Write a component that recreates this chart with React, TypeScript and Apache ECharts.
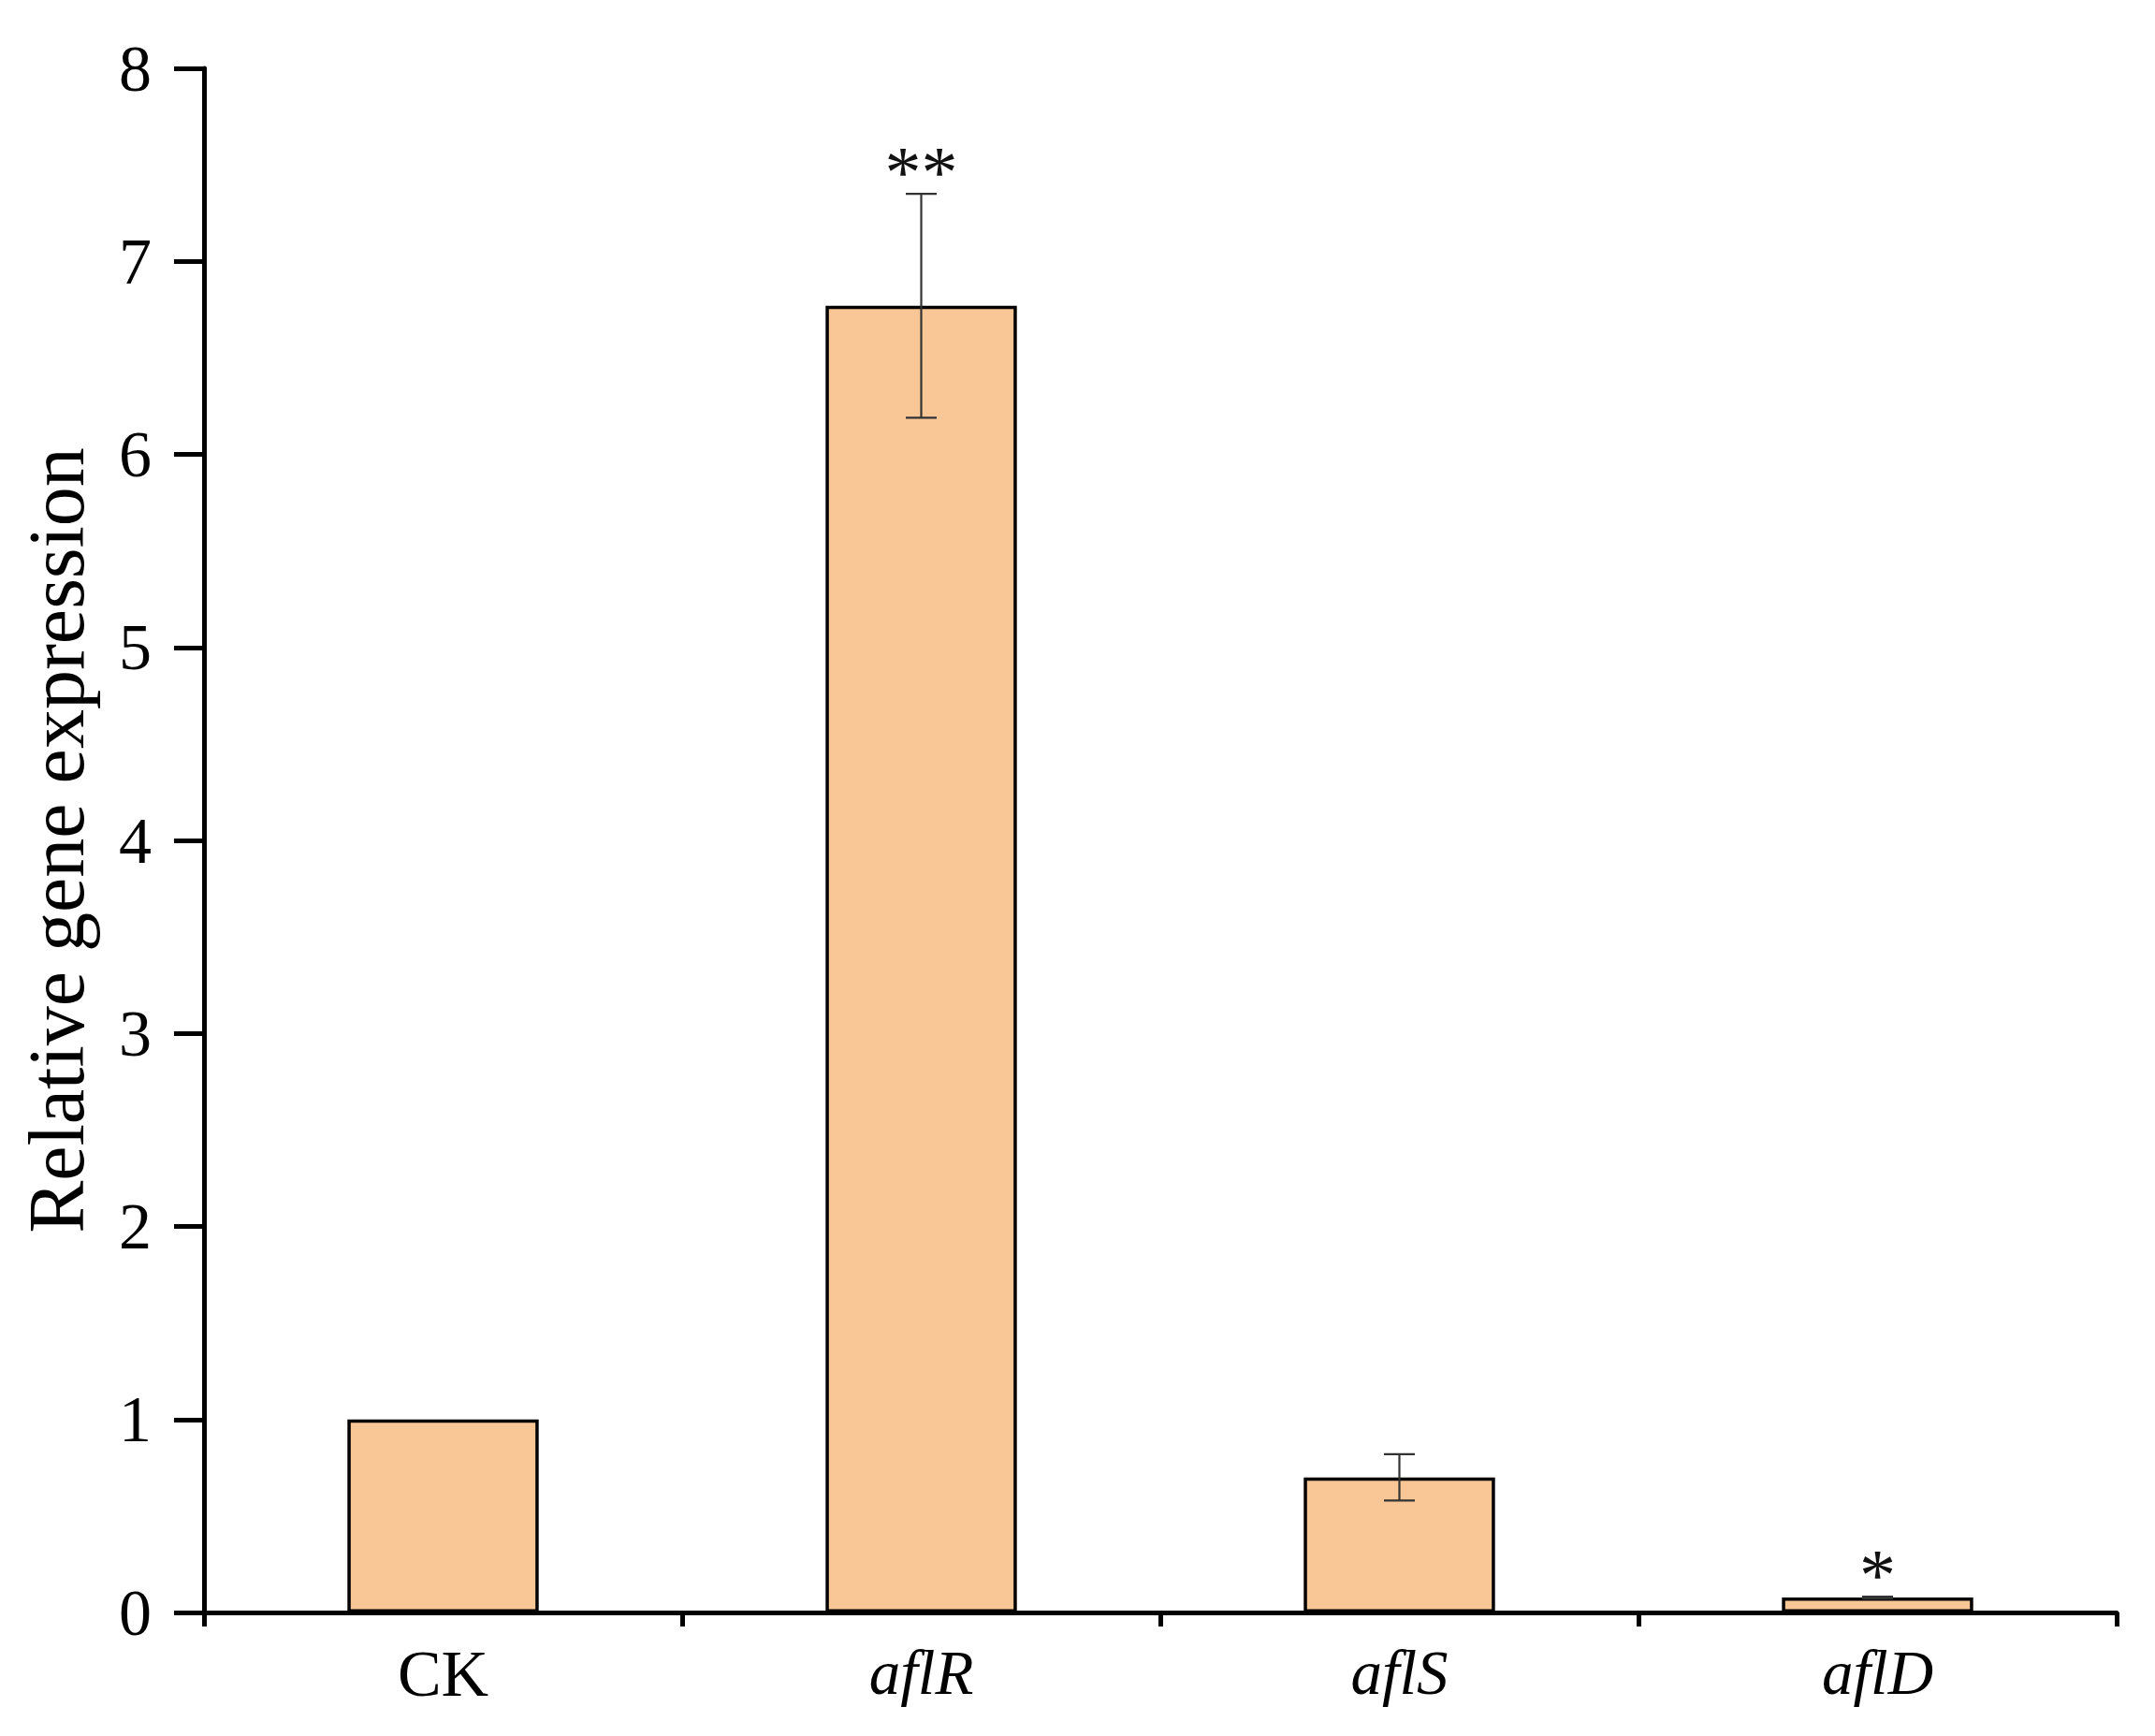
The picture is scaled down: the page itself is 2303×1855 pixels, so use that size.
import React, { useEffect, useRef } from 'react';
import * as echarts from 'echarts';

const categories = ['CK', 'aflR', 'aflS', 'aflD'];
const values = [1.0, 6.77, 0.7, 0.077];
const errors = [0, 0.58, 0.12, 0.005];
const marks = ['', '**', '', '*'];
const yTitle = 'Relative gene expression';

const FONT = '"Liberation Serif", "Times New Roman", Times, serif';

export default function App() {
  const ref = useRef<HTMLDivElement>(null);
  useEffect(() => {
    const chart = echarts.init(ref.current!, null, { renderer: 'svg' });
    chart.setOption({
      animation: false,
      backgroundColor: '#ffffff',
      grid: { left: 218, right: 41, top: 73, bottom: 132, containLabel: false },
      xAxis: {
        type: 'category',
        data: categories,
        boundaryGap: true,
        axisLine: { show: true, lineStyle: { color: '#000', width: 5 } },
        axisTick: { show: true, inside: false, length: 15, lineStyle: { color: '#000', width: 5 } },
        axisLabel: {
          margin: 30,
          formatter: (v: string) => (v === 'CK' ? `{n|${v}}` : `{i|${v}}`),
          rich: {
            n: { fontFamily: FONT, fontSize: 70, color: '#000' },
            i: { fontFamily: FONT, fontSize: 67, fontStyle: 'italic', color: '#000' },
          },
        },
        splitLine: { show: false },
      },
      yAxis: {
        type: 'value',
        min: 0,
        max: 8,
        interval: 1,
        name: yTitle,
        nameLocation: 'middle',
        nameGap: 116,
        nameTextStyle: { fontFamily: FONT, fontSize: 84, color: '#000' },
        axisLine: { show: true, lineStyle: { color: '#000', width: 5 } },
        axisTick: { show: true, inside: false, length: 32, lineStyle: { color: '#000', width: 5 } },
        axisLabel: { margin: 56, fontFamily: FONT, fontSize: 70, color: '#000' },
        splitLine: { show: false },
      },
      series: [
        {
          type: 'bar',
          data: values,
          barWidth: '40%',
          itemStyle: { color: '#F9C696', borderColor: '#000', borderWidth: 3.5 },
        },
        {
          type: 'custom',
          data: values.map((v, i) => [i, v, errors[i]]),
          z: 10,
          renderItem: (params: any, api: any) => {
            const i = api.value(0);
            const v = api.value(1);
            const e = api.value(2);
            const top = api.coord([i, v + e]);
            const bot = api.coord([i, v - e]);
            const half = 16.5;
            const children: any[] = [];
            const st = { stroke: '#333', lineWidth: 2.2 };
            if (e > 0) {
              children.push({ type: 'line', shape: { x1: top[0], y1: top[1], x2: bot[0], y2: bot[1] }, style: st });
              children.push({ type: 'line', shape: { x1: top[0] - half, y1: top[1], x2: top[0] + half, y2: top[1] }, style: st });
              children.push({ type: 'line', shape: { x1: bot[0] - half, y1: bot[1], x2: bot[0] + half, y2: bot[1] }, style: st });
            }
            const m = marks[params.dataIndex];
            if (m) {
              children.push({
                type: 'text',
                style: {
                  text: m,
                  x: top[0],
                  y: top[1] - 24,
                  align: 'center',
                  verticalAlign: 'middle',
                  fontFamily: FONT,
                  fontSize: 78,
                  fill: '#111',
                },
              });
            }
            return { type: 'group', children };
          },
        },
      ],
    });
    return () => chart.dispose();
  }, []);
  return (
    <div
      ref={ref}
      style={{ position: 'fixed', left: 0, top: 0, width: 2303, height: 1855, background: '#fff' }}
    />
  );
}
